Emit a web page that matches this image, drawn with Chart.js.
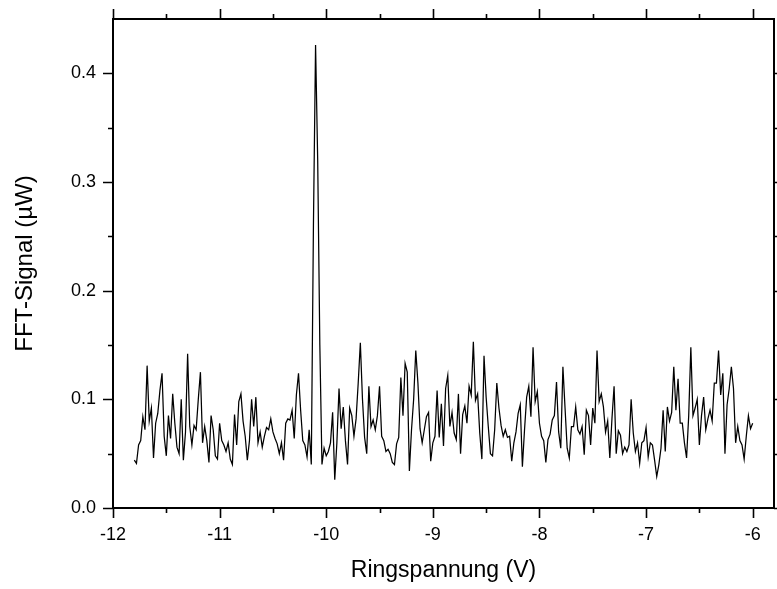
<!DOCTYPE html>
<html>
<head>
<meta charset="utf-8">
<script src="https://cdn.jsdelivr.net/npm/chart.js@4/dist/chart.umd.min.js"></script>
<style>
  html, body { margin: 0; padding: 0; background: #fff; }
  #wrap { width: 777px; height: 589px; }
</style>
</head>
<body>
<div id="wrap"><canvas id="fft-chart"></canvas></div>
<script>
// Ringspannung (V) - sampling grid of the scan
const voltage = [
  -11.80,-11.78,-11.76,-11.74,-11.72,-11.70,-11.68,-11.66,-11.64,-11.62,
  -11.60,-11.58,-11.56,-11.54,-11.52,-11.50,-11.48,-11.46,-11.44,-11.42,
  -11.40,-11.38,-11.36,-11.34,-11.32,-11.30,-11.28,-11.26,-11.24,-11.22,
  -11.20,-11.18,-11.16,-11.14,-11.12,-11.10,-11.08,-11.06,-11.04,-11.02,
  -11.00,-10.98,-10.96,-10.94,-10.92,-10.90,-10.88,-10.86,-10.84,-10.82,
  -10.80,-10.78,-10.76,-10.74,-10.72,-10.70,-10.68,-10.66,-10.64,-10.62,
  -10.60,-10.58,-10.56,-10.54,-10.52,-10.50,-10.48,-10.46,-10.44,-10.42,
  -10.40,-10.38,-10.36,-10.34,-10.32,-10.30,-10.28,-10.26,-10.24,-10.22,
  -10.20,-10.18,-10.16,-10.14,-10.12,-10.10,-10.08,-10.06,-10.04,-10.02,
  -10.00,-9.98,-9.96,-9.94,-9.92,-9.90,-9.88,-9.86,-9.84,-9.82,
  -9.80,-9.78,-9.76,-9.74,-9.72,-9.70,-9.68,-9.66,-9.64,-9.62,
  -9.60,-9.58,-9.56,-9.54,-9.52,-9.50,-9.48,-9.46,-9.44,-9.42,
  -9.40,-9.38,-9.36,-9.34,-9.32,-9.30,-9.28,-9.26,-9.24,-9.22,
  -9.20,-9.18,-9.16,-9.14,-9.12,-9.10,-9.08,-9.06,-9.04,-9.02,
  -9.00,-8.98,-8.96,-8.94,-8.92,-8.90,-8.88,-8.86,-8.84,-8.82,
  -8.80,-8.78,-8.76,-8.74,-8.72,-8.70,-8.68,-8.66,-8.64,-8.62,
  -8.60,-8.58,-8.56,-8.54,-8.52,-8.50,-8.48,-8.46,-8.44,-8.42,
  -8.40,-8.38,-8.36,-8.34,-8.32,-8.30,-8.28,-8.26,-8.24,-8.22,
  -8.20,-8.18,-8.16,-8.14,-8.12,-8.10,-8.08,-8.06,-8.04,-8.02,
  -8.00,-7.98,-7.96,-7.94,-7.92,-7.90,-7.88,-7.86,-7.84,-7.82,
  -7.80,-7.78,-7.76,-7.74,-7.72,-7.70,-7.68,-7.66,-7.64,-7.62,
  -7.60,-7.58,-7.56,-7.54,-7.52,-7.50,-7.48,-7.46,-7.44,-7.42,
  -7.40,-7.38,-7.36,-7.34,-7.32,-7.30,-7.28,-7.26,-7.24,-7.22,
  -7.20,-7.18,-7.16,-7.14,-7.12,-7.10,-7.08,-7.06,-7.04,-7.02,
  -7.00,-6.98,-6.96,-6.94,-6.92,-6.90,-6.88,-6.86,-6.84,-6.82,
  -6.80,-6.78,-6.76,-6.74,-6.72,-6.70,-6.68,-6.66,-6.64,-6.62,
  -6.60,-6.58,-6.56,-6.54,-6.52,-6.50,-6.48,-6.46,-6.44,-6.42,
  -6.40,-6.38,-6.36,-6.34,-6.32,-6.30,-6.28,-6.26,-6.24,-6.22,
  -6.20,-6.18,-6.16,-6.14,-6.12,-6.10,-6.08,-6.06,-6.04,-6.02,
  -6.00
];

// FFT-Signal (µW)
const fftSignal = [
  0.044,0.041,0.058,0.062,0.084,0.072,0.131,0.080,0.092,0.046,
  0.078,0.087,0.108,0.124,0.066,0.048,0.085,0.064,0.105,0.078,
  0.056,0.050,0.100,0.044,0.070,0.142,0.075,0.058,0.076,0.072,
  0.100,0.125,0.060,0.075,0.062,0.042,0.085,0.072,0.048,0.045,
  0.078,0.062,0.058,0.052,0.060,0.045,0.040,0.086,0.058,0.098,
  0.105,0.080,0.066,0.044,0.062,0.100,0.075,0.102,0.060,0.070,
  0.056,0.066,0.074,0.072,0.082,0.070,0.064,0.059,0.050,0.060,
  0.044,0.078,0.082,0.081,0.090,0.064,0.104,0.124,0.090,0.062,
  0.058,0.047,0.072,0.040,0.260,0.426,0.320,0.150,0.040,0.055,
  0.048,0.052,0.060,0.088,0.026,0.060,0.110,0.073,0.093,0.062,
  0.040,0.092,0.085,0.066,0.082,0.115,0.152,0.100,0.065,0.050,
  0.112,0.075,0.081,0.072,0.085,0.112,0.066,0.062,0.052,0.054,
  0.050,0.042,0.040,0.059,0.065,0.120,0.085,0.133,0.125,0.034,
  0.072,0.100,0.145,0.115,0.073,0.060,0.072,0.084,0.088,0.043,
  0.060,0.066,0.108,0.065,0.096,0.057,0.110,0.122,0.075,0.088,
  0.069,0.063,0.105,0.050,0.086,0.094,0.078,0.112,0.104,0.153,
  0.099,0.105,0.069,0.045,0.140,0.102,0.075,0.050,0.048,0.072,
  0.115,0.092,0.076,0.066,0.072,0.065,0.066,0.043,0.060,0.070,
  0.087,0.095,0.038,0.072,0.102,0.112,0.084,0.148,0.098,0.107,
  0.078,0.066,0.062,0.042,0.063,0.068,0.081,0.085,0.116,0.070,
  0.055,0.130,0.092,0.055,0.046,0.075,0.075,0.093,0.072,0.068,
  0.075,0.049,0.090,0.085,0.058,0.092,0.078,0.145,0.098,0.105,
  0.093,0.070,0.080,0.046,0.082,0.112,0.050,0.071,0.067,0.050,
  0.056,0.052,0.058,0.100,0.069,0.052,0.060,0.041,0.060,0.062,
  0.074,0.047,0.060,0.058,0.044,0.029,0.040,0.055,0.090,0.052,
  0.093,0.080,0.088,0.130,0.090,0.119,0.078,0.078,0.060,0.046,
  0.085,0.148,0.085,0.092,0.100,0.058,0.085,0.102,0.072,0.082,
  0.090,0.080,0.115,0.115,0.145,0.104,0.124,0.050,0.095,0.110,
  0.130,0.110,0.060,0.075,0.062,0.058,0.045,0.066,0.085,0.073,
  0.078
];

// axis ticks
const xMajorTicks = [-12, -11, -10, -9, -8, -7, -6];
const xMinorTicks = [-11.5, -10.5, -9.5, -8.5, -7.5, -6.5];
const yMajorTicks = [0, 0.1, 0.2, 0.3, 0.4];
const yMinorTicks = [0.05, 0.15, 0.25, 0.35];
const yTickLabels = ['0.0', '0.1', '0.2', '0.3', '0.4'];

const FONT = "'Liberation Sans', Arial, Helvetica, sans-serif";

// frame with outward ticks on all four sides (Origin style)
const frameTicks = {
  id: 'frameTicks',
  afterDraw(chart) {
    const { ctx, chartArea: a, scales: { x, y } } = chart;
    ctx.save();
    ctx.strokeStyle = '#000';
    ctx.lineWidth = 2;
    ctx.strokeRect(a.left, a.top, a.right - a.left, a.bottom - a.top);
    ctx.lineWidth = 1.6;
    ctx.beginPath();
    const xTick = (v, len) => {
      const px = Math.round(x.getPixelForValue(v)) + 0.5;
      ctx.moveTo(px, a.bottom); ctx.lineTo(px, a.bottom + len);
      ctx.moveTo(px, a.top); ctx.lineTo(px, a.top - len);
    };
    const yTick = (v, len) => {
      const py = Math.round(y.getPixelForValue(v)) + 0.5;
      ctx.moveTo(a.left, py); ctx.lineTo(a.left - len, py);
      ctx.moveTo(a.right, py); ctx.lineTo(a.right + len, py);
    };
    xMajorTicks.forEach(v => xTick(v, 10));
    xMinorTicks.forEach(v => xTick(v, 5));
    yMajorTicks.forEach(v => yTick(v, 10));
    yMinorTicks.forEach(v => yTick(v, 5));
    ctx.stroke();
    ctx.restore();
  }
};

new Chart(document.getElementById('fft-chart'), {
  type: 'line',
  data: {
    datasets: [{
      data: voltage.map((v, i) => ({ x: v, y: fftSignal[i] })),
      borderColor: '#000',
      borderWidth: 1.25,
      pointRadius: 0,
      tension: 0,
      fill: false
    }]
  },
  options: {
    responsive: true,
    maintainAspectRatio: false,
    animation: false,
    layout: { padding: { left: 0, top: 19, right: 3, bottom: 0 } },
    plugins: { legend: { display: false }, tooltip: { enabled: false } },
    scales: {
      x: {
        type: 'linear',
        min: -12,
        max: -5.8,
        grid: { display: false, drawTicks: false },
        border: { display: false },
        afterBuildTicks: axis => { axis.ticks = xMajorTicks.map(v => ({ value: v })); },
        afterFit: axis => {
          axis.height = 81;
          axis.paddingLeft = 0;
          axis.paddingRight = 0;
        },
        ticks: {
          color: '#000',
          padding: 16,
          maxRotation: 0,
          font: { family: FONT, size: 18 },
          callback: v => String(v)
        },
        title: {
          display: true,
          text: 'Ringspannung (V)',
          color: '#000',
          padding: { top: 0, bottom: 5 },
          font: { family: FONT, size: 23 }
        }
      },
      y: {
        type: 'linear',
        min: 0,
        max: 0.45,
        grid: { display: false, drawTicks: false },
        border: { display: false },
        afterBuildTicks: axis => { axis.ticks = yMajorTicks.map(v => ({ value: v })); },
        afterFit: axis => {
          axis.width = 113;
          axis.paddingTop = 0;
          axis.paddingBottom = 0;
        },
        ticks: {
          color: '#000',
          padding: 17,
          font: { family: FONT, size: 18 },
          callback: (v, i) => yTickLabels[i]
        },
        title: {
          display: true,
          text: 'FFT-Signal (µW)',
          color: '#000',
          padding: { top: 11, bottom: 0 },
          font: { family: FONT, size: 24 }
        }
      }
    }
  },
  plugins: [frameTicks]
});
</script>
</body>
</html>
